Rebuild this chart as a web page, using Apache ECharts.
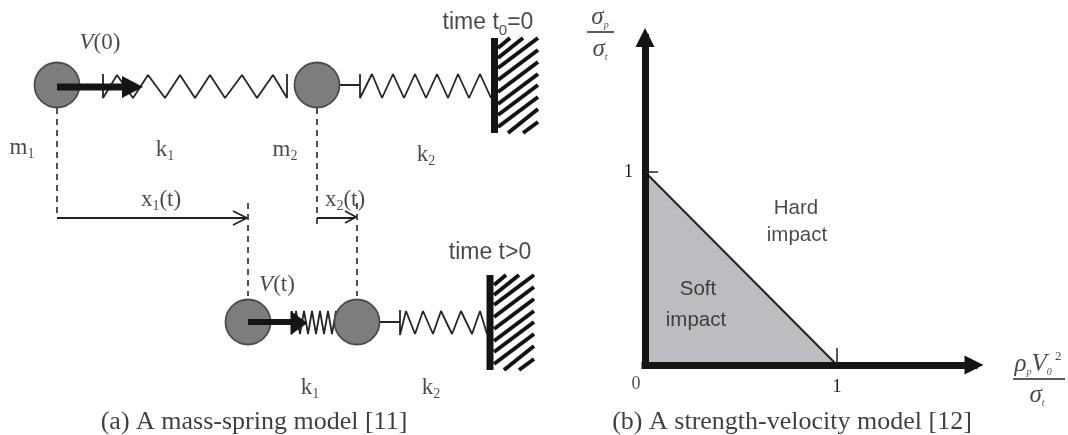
<!DOCTYPE html>
<html><head><meta charset="utf-8">
<style>html,body{margin:0;padding:0;background:#fff}#c{width:1068px;height:435px;filter:blur(0.45px)}</style>
<script src="https://cdn.jsdelivr.net/npm/echarts@6/dist/echarts.min.js"></script>
</head><body><div id="c"></div>
<script>
// ---- Panel (a): mass-spring diagram, in diagram units ----
const masses = [[57,85],[317,85],[248,322],[357,322]];
const spring1Top = [[103,74],[103,98],[117,75],[133,98],[148,75],[165,98],[180,75],[195,98],[210,75],[225,98],[242,75],[257,98],[273,75],[287,98],[287,74]];
const spring2Top = [[339,85],[360,85],[360,74],[360,98],[372,74],[382,98],[393,74],[404,98],[415,74],[426,98],[437,74],[448,98],[458,74],[469,98],[480,74],[491,98]];
const spring1Low = [[292,311],[292,334],[296,311],[300,334],[304,311],[308,334],[312,311],[316,334],[320,311],[324,334],[328,311],[332,334],[336,311],[338,334]];
const spring2Low = [[380,322],[400,322],[400,310],[400,335],[406,311],[415,334],[423,311],[433,334],[441,311],[452,334],[461,311],[472,334],[480,311],[487,334]];
const wallTop = [[494.5,38],[494.5,133]];
const wallLow = [[490,275],[490,370]];
const hatchTop = [
  [[498,48],[510,38]],[[498,58],[523,38]],[[498,68],[538,38]],[[498,80],[538,50]],
  [[498,92],[538,62]],[[498,104],[538,74]],[[498,115],[538,85]],[[498,127],[538,97]],
  [[508,133],[538,109]],[[523,133],[538,122]]];
const hatchLow = [
  [[494,285],[506,275]],[[494,295],[519,275]],[[494,305],[534,275]],[[494,317],[534,287]],
  [[494,329],[534,299]],[[494,341],[534,311]],[[494,352],[534,322]],[[494,364],[534,334]],
  [[504,370],[534,346]],[[519,370],[534,359]]];
const dashes = [
  [[57,108],[57,218]],[[317,108],[317,225]],[[248,203],[248,296]],[[357,203],[357,296]]];
const velocityTop = [[57,87],[124,87]];
const velocityLow = [[248,322],[293,322]];
const velocityHeads = [[132.5,87],[299,323]];
const x1Arrow = [[57,218],[246,218]];
const x1Head = [[233,211],[247,218],[233,225]];
const x2Arrow = [[317,218],[355,218]];
const x2Head = [[345,211],[356,217],[345,223]];
const fractionLines = [[[587,32],[614,32]],[[1013,379],[1065,379]]];

// ---- Panel (b): strength-velocity model ----
const softRegionX = [0,1];
const softRegionY = [1,0];
const tickLabelsX = [1];
const tickLabelsY = [1];

// ---- Text annotations: [x, y, text] ----
const serifLabels = [
  [22,148,'{r|m}{s|1}'],[165,150,'{r|k}{s|1}'],[285,150,'{r|m}{s|2}'],[426,155,'{r|k}{s|2}'],
  [161,200,'{r|x}{s|1}{r|(t)}'],[345,200,'{r|x}{s|2}{r|(t)}'],
  [100,43,'{i|V}{r|(0)}'],[277,285,'{i|V}{r|(t)}'],
  [310,388,'{r|k}{s|1}'],[431,388,'{r|k}{s|2}'],
  [636,384,'{n|0}'],
  [254,422,'{c|(a) A mass-spring model [11]}'],[792,422,'{c|(b) A strength-velocity model [12]}']];
const sansLabels = [
  [488,23,'{t|time t}{u|0}{t|=0}'],[490,253,'{t|time t>0}'],
  [796,208,'{h|Hard}'],[797,235,'{h|impact}'],[698,289,'{h|Soft}'],[696,320,'{h|impact}']];
const mathLabels = [
  [600,17,'{g|σ}{gs|p}'],[600,49,'{g|σ}{gs|t}'],
  [1038,364,'{g|ρ}{gs|p}{g|V}{gs|0}{gu| 2}'],[1037,395,'{g|σ}{gs|t}']];

const ink = '#1c1c1c';
const axisInk = '#141414';
function poly(points, width, color, extra){
  return Object.assign({type:'line',xAxisIndex:0,yAxisIndex:0,data:points,symbol:'none',silent:true,animation:false,
    lineStyle:{width:width,color:color}},extra||{});
}
const rich = {
  r:{fontFamily:'Liberation Serif',fontSize:23,color:ink},
  i:{fontFamily:'Liberation Serif',fontStyle:'italic',fontSize:23,color:ink},
  s:{fontFamily:'Liberation Serif',fontSize:14,color:ink,verticalAlign:'bottom',padding:[12,0,0,0]},
  n:{fontFamily:'Liberation Serif',fontSize:18,color:ink},
  c:{fontFamily:'Liberation Serif',fontSize:26,color:'#0e0e0e'},
  t:{fontFamily:'Liberation Sans',fontSize:23,color:ink},
  u:{fontFamily:'Liberation Sans',fontSize:15,color:ink,verticalAlign:'bottom',padding:[15,0,0,0]},
  h:{fontFamily:'Liberation Sans',fontSize:20.5,color:ink},
  g:{fontFamily:'Liberation Serif',fontStyle:'italic',fontSize:25,color:ink},
  gs:{fontFamily:'Liberation Serif',fontStyle:'italic',fontSize:10,color:ink,verticalAlign:'bottom',padding:[17,0,0,0]},
  gu:{fontFamily:'Liberation Serif',fontSize:13,color:ink,verticalAlign:'top',padding:[0,0,11,0]}
};
function textSeries(rows){
  return {type:'scatter',xAxisIndex:0,yAxisIndex:0,symbolSize:0,silent:true,animation:false,z:20,
    data:rows.map(r=>({value:[r[0],r[1]],label:{formatter:r[2]}})),
    label:{show:true,position:'inside',align:'center',verticalAlign:'middle',rich:rich}};
}
const series = [];
[spring1Top,spring2Top,spring1Low,spring2Low].forEach(s=>series.push(poly(s,1.8,'#262626',{z:2})));
dashes.forEach(d=>series.push(poly(d,1.6,'#333',{z:2,lineStyle:{width:1.6,color:'#262626',type:[6,5]}})));
[x1Arrow,x1Head,x2Arrow,x2Head].forEach(s=>series.push(poly(s,1.8,'#222',{z:3})));
[wallTop,wallLow].forEach(s=>series.push(poly(s,7,'#141414',{z:3})));
hatchTop.concat(hatchLow).forEach(s=>series.push(poly(s,4,'#141414',{z:3})));
series.push({type:'scatter',xAxisIndex:0,yAxisIndex:0,data:masses,symbol:'circle',symbolSize:45,silent:true,animation:false,z:4,
  itemStyle:{color:'#7d7d80',borderColor:'#4c4c4c',borderWidth:1.8,opacity:1}});
series.push(poly(velocityTop,7,'#141414',{z:5}));
series.push(poly(velocityLow,6,'#141414',{z:5}));
series.push({type:'scatter',xAxisIndex:0,yAxisIndex:0,symbol:'triangle',symbolRotate:-90,silent:true,animation:false,z:5,
  data:[{value:velocityHeads[0],symbolSize:[22,21]},{value:velocityHeads[1],symbolSize:[24,17]}],
  itemStyle:{color:'#141414',opacity:1}});
fractionLines.forEach(f=>series.push(poly(f,1.5,'#262626',{z:3})));
series.push({type:'line',xAxisIndex:1,yAxisIndex:1,silent:true,animation:false,symbol:'none',z:1,
  data:softRegionX.map((x,i)=>[x,softRegionY[i]]),
  lineStyle:{width:2,color:'#222'},areaStyle:{color:'#bcbdc0',opacity:1}});
series.push(textSeries(serifLabels),textSeries(sansLabels),textSeries(mathLabels));

const hidden = {show:false};
const chart = echarts.init(document.getElementById('c'),null,{renderer:'canvas'});
const arrowLine = (size)=>({show:true,onZero:false,symbol:['none','triangle'],symbolSize:size,
  lineStyle:{width:7,color:axisInk,cap:'square'}});
chart.setOption({
  backgroundColor:'#fff',animation:false,
  grid:[
    {left:0,top:0,width:1068,height:435,show:false},
    {left:645,top:37.5,width:329,height:327.5,show:false}
  ],
  xAxis:[
    {type:'value',gridIndex:0,min:0,max:1068,axisLine:hidden,axisTick:hidden,axisLabel:hidden,splitLine:hidden},
    {type:'value',gridIndex:1,z:10,min:0,max:329/192,interval:1,axisLine:arrowLine([19,19]),
     axisTick:{show:true,inside:true,length:17,customValues:tickLabelsX,lineStyle:{width:1.5,color:'#222'}},
     axisLabel:{show:true,margin:13,customValues:tickLabelsX,fontFamily:'Liberation Serif',fontSize:18,color:ink},
     splitLine:hidden}
  ],
  yAxis:[
    {type:'value',gridIndex:0,min:0,max:435,inverse:true,axisLine:hidden,axisTick:hidden,axisLabel:hidden,splitLine:hidden},
    {type:'value',gridIndex:1,z:10,min:0,max:327.5/193,interval:1,axisLine:arrowLine([19,19]),
     axisTick:{show:true,inside:true,length:13,customValues:tickLabelsY,lineStyle:{width:1.5,color:'#222'}},
     axisLabel:{show:true,margin:12,customValues:tickLabelsY,fontFamily:'Liberation Serif',fontSize:18,color:ink,padding:[10,0,0,0]},
     splitLine:hidden}
  ],
  series:series
});
</script></body></html>
